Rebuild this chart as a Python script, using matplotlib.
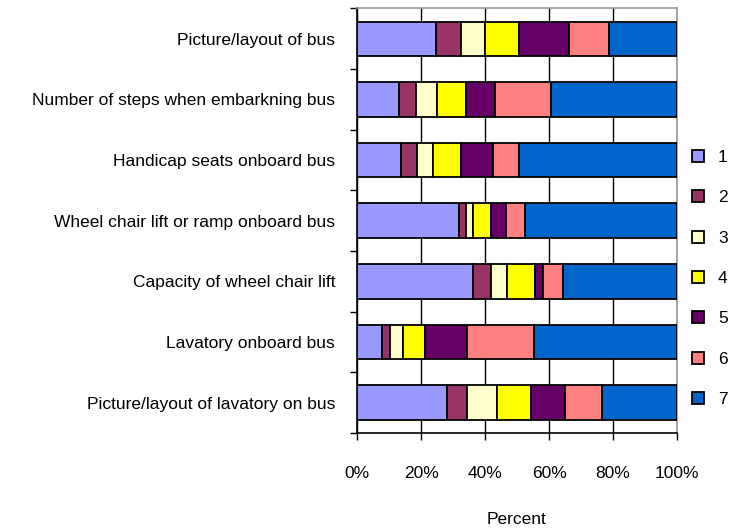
import matplotlib.pyplot as plt
import numpy as np

plt.rcParams['font.family'] = ['Liberation Sans', 'DejaVu Sans']

categories = [
    "Picture/layout of bus",
    "Number of steps when embarkning bus",
    "Handicap seats onboard bus",
    "Wheel chair lift or ramp onboard bus",
    "Capacity of wheel chair lift",
    "Lavatory onboard bus",
    "Picture/layout of lavatory on bus",
]

# share of answers per rating (percent), one list per rating
r1 = [24.8, 13.0, 13.6, 31.8, 36.1, 7.9, 28.1]
r2 = [7.6, 5.5, 5.0, 2.4, 5.8, 2.5, 6.2]
r3 = [7.5, 6.5, 5.1, 1.9, 4.9, 3.9, 9.5]
r4 = [10.6, 9.2, 8.8, 5.8, 8.8, 6.9, 10.6]
r5 = [15.8, 8.9, 10.1, 4.5, 2.4, 13.2, 10.6]
r6 = [12.5, 17.5, 8.1, 6.2, 6.5, 20.8, 11.5]
r7 = [21.1, 39.4, 49.3, 47.4, 35.5, 44.9, 23.5]

ratings = ["1", "2", "3", "4", "5", "6", "7"]
colors = ["#9999FF", "#993366", "#FFFFCC", "#FFFF00", "#660066", "#FF8080", "#0066CC"]

fs = 12.5

fig = plt.figure(figsize=(7.31, 5.31), dpi=100)
ax = fig.add_axes([0.4884, 0.1846, 0.4378, 0.7994])

y = np.arange(len(categories))
left = np.zeros(len(categories))
for vals, lab, col in zip([r1, r2, r3, r4, r5, r6, r7], ratings, colors):
    ax.barh(y, vals, left=left, height=0.57, color=col, edgecolor="black",
            linewidth=1.3, label=lab, zorder=3)
    left += np.array(vals)

ax.set_xlim(0, 100)
ax.set_ylim(len(categories) - 0.5, -0.5)
ax.set_xticks([0, 20, 40, 60, 80, 100])
ax.set_xticklabels(["0%", "20%", "40%", "60%", "80%", "100%"])
ax.xaxis.grid(True, color="black", linewidth=1, zorder=0)

ax.set_yticks(y)
ax.set_yticklabels(categories)
ax.set_yticks(np.arange(len(categories) + 1) - 0.5, minor=True)
ax.tick_params(axis="y", which="major", length=0, pad=15.8, labelsize=fs)
ax.tick_params(axis="y", which="minor", length=5, width=1, direction="out")
ax.tick_params(axis="x", length=5, width=1, direction="out", pad=18.5, labelsize=fs)

ax.spines["left"].set_color("black")
ax.spines["bottom"].set_color("black")
ax.spines["top"].set_color("#999999")
ax.spines["right"].set_color("#999999")
for s in ax.spines.values():
    s.set_linewidth(1.2)

# axis title sits near the bottom edge
fig.text(517 / 731, 1 - 520 / 531, "Percent", ha="center", va="center", fontsize=fs)

fig.legend(loc="center left", bbox_to_anchor=(0.937, 0.4755), frameon=False,
           fontsize=fs, handlelength=0.7, handleheight=0.7, labelspacing=1.45,
           handletextpad=0.8, borderaxespad=0)

fig.savefig("out.png", dpi=100)
